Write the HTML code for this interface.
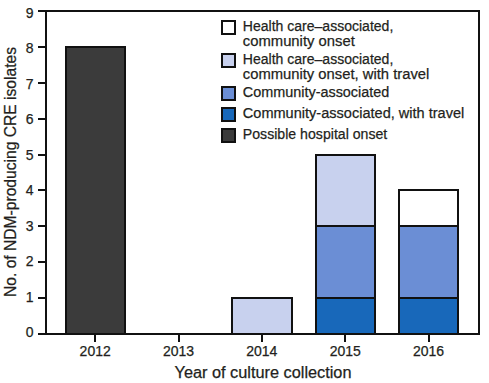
<!DOCTYPE html>
<html><head><meta charset="utf-8">
<style>
html,body{margin:0;padding:0;background:#fff;width:489px;height:383px;overflow:hidden}
svg{display:block}
text{font-family:"Liberation Sans",sans-serif;fill:#231f20;stroke:#231f20;stroke-width:0.25px}
</style></head>
<body>
<svg width="489" height="383" viewBox="0 0 489 383">
<g stroke="#111" stroke-width="2">
  <rect x="66" y="47" width="59" height="287" fill="#3b3b3b"/>
  <rect x="232" y="298" width="60" height="36" fill="#c8d1ee"/>
  <rect x="316" y="298" width="59" height="36" fill="#1868ba"/>
  <rect x="316" y="226" width="59" height="72" fill="#6b8ed5"/>
  <rect x="316" y="155" width="59" height="71" fill="#c8d1ee"/>
  <rect x="399" y="298" width="59" height="36" fill="#1868ba"/>
  <rect x="399" y="226" width="59" height="72" fill="#6b8ed5"/>
  <rect x="399" y="190" width="59" height="36" fill="#fff"/>
</g>
<g stroke="#111" stroke-width="2" fill="none">
  <rect x="46" y="11" width="433" height="323"/>
  <path d="M38 11H46M38 47H46M38 83H46M38 119H46M38 155H46M38 190H46M38 226H46M38 262H46M38 298H46M38 334H46"/>
  <path d="M95 334V342M179 334V342M262 334V342M345 334V342M429 334V342"/>
</g>
<g font-size="14" text-anchor="end">
  <text x="33.5" y="337.0">0</text>
  <text x="33.5" y="301.5">1</text>
  <text x="33.5" y="266.1">2</text>
  <text x="33.5" y="230.6">3</text>
  <text x="33.5" y="195.2">4</text>
  <text x="33.5" y="159.7">5</text>
  <text x="33.5" y="124.2">6</text>
  <text x="33.5" y="88.8">7</text>
  <text x="33.5" y="53.3">8</text>
  <text x="33.5" y="17.9">9</text>
</g>
<g font-size="14" text-anchor="middle">
  <text x="95.2" y="356">2012</text>
  <text x="178.5" y="356">2013</text>
  <text x="261.8" y="356">2014</text>
  <text x="345.3" y="356">2015</text>
  <text x="428.6" y="356">2016</text>
</g>
<text x="263" y="378" font-size="16" text-anchor="middle" textLength="177" lengthAdjust="spacingAndGlyphs">Year of culture collection</text>
<text transform="translate(16,172) rotate(-90)" font-size="16" text-anchor="middle" textLength="250" lengthAdjust="spacingAndGlyphs">No. of NDM-producing CRE isolates</text>
<g stroke="#111" stroke-width="2">
  <rect x="222" y="21" width="13" height="13" fill="#fff"/>
  <rect x="222" y="54" width="13" height="13" fill="#c8d1ee"/>
  <rect x="222" y="87" width="13" height="13" fill="#6b8ed5"/>
  <rect x="222" y="108" width="13" height="13" fill="#1868ba"/>
  <rect x="222" y="129" width="13" height="13" fill="#3b3b3b"/>
</g>
<g font-size="15.5">
  <text x="242.8" y="31" textLength="150.5" lengthAdjust="spacingAndGlyphs">Health care–associated,</text>
  <text x="242.8" y="46" textLength="112" lengthAdjust="spacingAndGlyphs">community onset</text>
  <text x="242.8" y="64" textLength="150.5" lengthAdjust="spacingAndGlyphs">Health care–associated,</text>
  <text x="242.8" y="79" textLength="186.5" lengthAdjust="spacingAndGlyphs">community onset, with travel</text>
  <text x="242.8" y="97" textLength="146.5" lengthAdjust="spacingAndGlyphs">Community-associated</text>
  <text x="242.8" y="118" textLength="221.5" lengthAdjust="spacingAndGlyphs">Community-associated, with travel</text>
  <text x="242.8" y="139" textLength="144.5" lengthAdjust="spacingAndGlyphs">Possible hospital onset</text>
</g>
</svg>
</body></html>
